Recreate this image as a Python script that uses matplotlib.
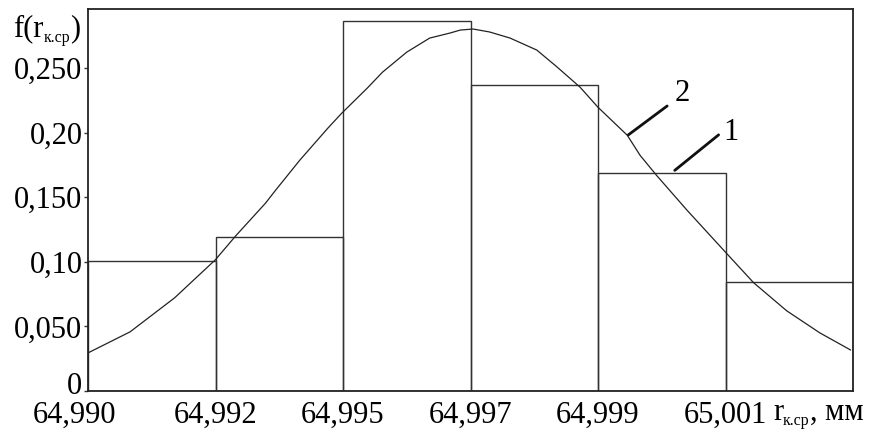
import matplotlib
matplotlib.use("Agg")
import matplotlib.pyplot as plt
from matplotlib.transforms import ScaledTranslation

plt.rcParams['font.family'] = ['Liberation Serif', 'DejaVu Serif']

# histogram: equal-width classes, positions given as class index
bin_edges = [0, 1, 2, 3, 4, 5, 6]
freq = [0.101, 0.119, 0.2865, 0.237, 0.1685, 0.0845]
edge_labels = ['64,990', '64,992', '64,995', '64,997', '64,999', '65,001']

# theoretical density curve (class-index units)
curve_x = [0.0, 0.33, 0.68, 1.0, 1.16, 1.39, 1.47, 1.66, 1.88, 1.99, 2.19,
           2.31, 2.50, 2.68, 2.84, 2.92, 3.02, 3.15, 3.31, 3.52, 3.68, 3.86,
           4.0, 4.23, 4.33, 4.46, 4.70, 5.01, 5.22, 5.48, 5.74, 5.98]
curve_y = [0.0295, 0.0458, 0.0722, 0.1017, 0.1203, 0.1452, 0.1553, 0.1786,
           0.2034, 0.2151, 0.2345, 0.2469, 0.2624, 0.2733, 0.2772, 0.2795,
           0.2803, 0.2780, 0.2733, 0.2640, 0.2508, 0.2352, 0.2197, 0.1980,
           0.1825, 0.1669, 0.1398, 0.1064, 0.0839, 0.0621, 0.0450, 0.0318]

y_ticks = [0, 0.05, 0.10, 0.15, 0.20, 0.25]
y_labels = ['0', '0,050', '0,10', '0,150', '0,20', '0,250']

BIG = 22
SMALL = 11.5

fig = plt.figure(figsize=(8.75, 4.33), dpi=100)
ax = fig.add_axes([88 / 875, 42 / 433, 765 / 875, 382 / 433])

ax.bar(bin_edges[:-1], freq, width=1, align='edge', fill=False,
       edgecolor='#333333', linewidth=1.0)
ax.plot(curve_x, curve_y, color='#222222', linewidth=0.9)

ax.set_xlim(0, 6)
ax.set_ylim(0, 0.2958)

ax.set_xticks(bin_edges[:-1])
ax.set_xticklabels(edge_labels)
ax.tick_params(axis='x', length=0, pad=7, labelsize=BIG)

ax.set_yticks(y_ticks)
ax.set_yticklabels(y_labels)
ax.tick_params(axis='y', length=3, width=1, pad=1, labelsize=BIG,
               direction='out', color='#333333')

# nudge the corner labels away from each other
first_x = ax.get_xticklabels()[0]
first_x.set_transform(first_x.get_transform()
                      + ScaledTranslation(-0.13, 0, fig.dpi_scale_trans))
zero_y = ax.get_yticklabels()[0]
zero_y.set_transform(zero_y.get_transform()
                     + ScaledTranslation(0, 0.08, fig.dpi_scale_trans))

for s in ax.spines.values():
    s.set_color('#222222')
    s.set_linewidth(1.3)

# leader lines for the curve (2) and the histogram (1)
ax.annotate('', xy=(4.22, 0.197), xytext=(4.56, 0.222),
            arrowprops=dict(arrowstyle='-', color='#111111', lw=2))
ax.text(4.66, 0.2306, '2', fontsize=BIG, ha='center', va='center')
ax.annotate('', xy=(4.585, 0.1695), xytext=(4.963, 0.1997),
            arrowprops=dict(arrowstyle='-', color='#111111', lw=2))
ax.text(5.04, 0.2005, '1', fontsize=BIG, ha='center', va='center')


def chain_text(x_px, base_px, parts):
    """Write (text, size, drop_px) pieces one after another on a baseline."""
    renderer = fig.canvas.get_renderer()
    x = x_px
    for s, size, drop in parts:
        t = fig.text(x / 875, 1 - (base_px + drop) / 433, s, fontsize=size,
                     ha='left', va='baseline')
        x += t.get_window_extent(renderer).width


chain_text(13, 36, [('f(r', BIG, 0), ('к.ср', SMALL, 6), (')', BIG, 0)])
chain_text(773, 420, [('r', BIG, 0), ('к.ср', SMALL, 5), (', мм', BIG, 0)])

fig.savefig('out.png', dpi=100)
